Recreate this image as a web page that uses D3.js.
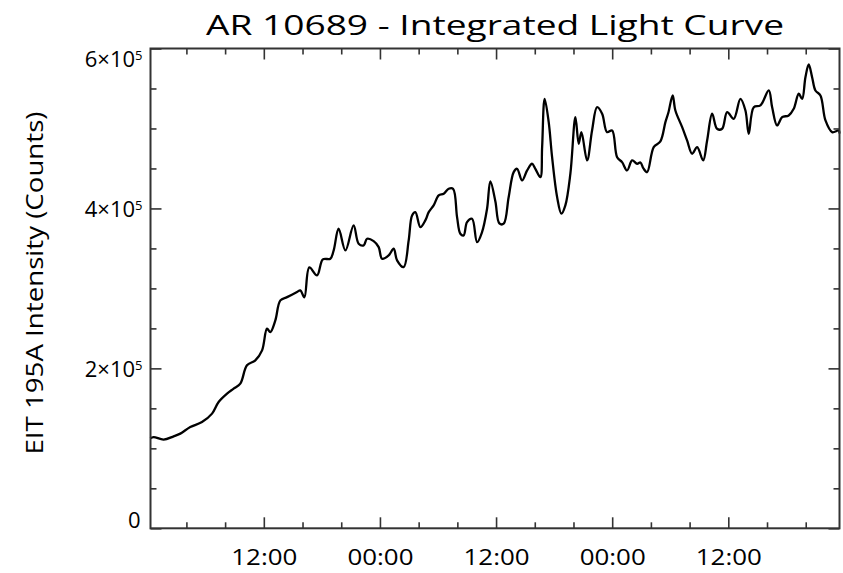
<!DOCTYPE html>
<html>
<head>
<meta charset="utf-8">
<script src="https://cdn.jsdelivr.net/npm/d3@7"></script>
<style>
  html, body { margin: 0; padding: 0; background: #fff; }
  svg { display: block; }
  text { font-family: "Open Sans", "DejaVu Sans", sans-serif; font-weight: 400; fill: #000; }
</style>
</head>
<body>
<svg id="chart" width="843" height="573"></svg>
<script>
// ---- data ----
const titleText = "AR 10689 - Integrated Light Curve";
const yTitleText = "EIT 195A Intensity (Counts)";
// hours since 00:00 of the first day
const hours = [
  0.27, 0.61, 1.64, 2.68, 3.37, 4.40, 5.61, 6.65, 7.33, 8.20, 8.88, 9.57,
  10.26, 11.12, 11.82, 12.33, 12.67, 13.19, 13.71, 14.40, 15.43, 15.77, 16.19, 16.70,
  17.50, 18.10, 18.87, 19.22, 19.73, 20.43, 21.28, 21.80, 22.32, 22.67, 23.35, 23.87,
  24.22, 24.90, 25.42, 25.77, 26.45, 26.97, 27.32, 27.66, 28.18, 28.69, 29.04, 29.55,
  30.07, 30.59, 31.10, 31.56, 31.97, 32.31, 32.65, 33.00, 33.52, 34.04, 34.55, 35.07,
  35.41, 35.93, 36.34, 36.79, 37.30, 37.82, 38.17, 38.69, 39.21, 39.72, 40.06, 40.58,
  40.76, 41.02, 41.44, 41.79, 42.31, 42.75, 43.16, 43.68, 44.20, 44.54, 44.82, 45.41,
  45.92, 46.44, 46.96, 47.47, 47.99, 48.51, 49.02, 49.54, 50.06, 50.58, 50.92, 51.23,
  51.61, 52.29, 52.98, 53.50, 53.81, 54.25, 54.53, 55.23, 55.74, 56.26, 56.78, 57.40,
  57.81, 58.33, 58.84, 59.36, 59.88, 60.56, 61.25, 61.77, 62.11, 62.63, 63.32, 64.18,
  64.53, 65.04, 65.56, 66.24, 66.76, 67.28, 67.63, 67.97, 68.31, 68.66, 69.00, 69.52,
  70.04, 70.73, 71.41, 71.49
];
const counts = [
  112500, 114100, 110900, 115000, 118400, 126600, 132900, 143400, 157900, 168400, 174600, 180900,
  203800, 210000, 222500, 249600, 245400, 260000, 285000, 289100, 295400, 297500, 288800, 326300,
  316300, 336300, 337100, 347500, 374600, 347500, 378800, 355900, 353800, 362100, 359100, 351600,
  337100, 341300, 349600, 335000, 326600, 360000, 391300, 395400, 376600, 385000, 395400, 403800,
  416300, 418400, 424600, 424600, 389100, 368400, 366300, 382900, 387100, 357900, 370400, 399600,
  433800, 408800, 381300, 380900, 414100, 445400, 449600, 435000, 447500, 455900, 449600, 439100,
  476600, 537100, 507900, 464100, 414100, 393400, 403800, 443400, 514100, 480900, 495400, 460000,
  497500, 526600, 518400, 495400, 497500, 464100, 457900, 447500, 460000, 455900, 457500, 450000,
  445400, 476600, 483800, 507900, 520000, 541300, 522500, 501600, 485000, 468400, 476600, 460000,
  485000, 518400, 499600, 499600, 520400, 512100, 537100, 522500, 493400, 526600, 528800, 547500,
  526600, 503800, 514100, 516300, 524600, 543400, 537100, 564100, 580000, 564100, 547500, 541300,
  510000, 495400, 497500, 493800
];
const xDomain = [0.29, 71.49];          // hours shown on the x axis
const xMinorTicks = [4, 8, 16, 20, 28, 32, 40, 44, 52, 56, 64, 68];
const xMajorTicks = [12, 24, 36, 48, 60];
const xTickLabels = ["12:00", "00:00", "12:00", "00:00", "12:00"];
const yDomain = [0, 600000];
const yMajorTicks = [0, 200000, 400000, 600000];
const yMinorTicks = [50000, 100000, 150000, 250000, 300000, 350000, 450000, 500000, 550000];
const yTickLabels = [["0", ""], ["2×10", "5"], ["4×10", "5"], ["6×10", "5"]];

// ---- layout ----
const L = 150.5, R = 839.5, T = 48.5, B = 528.3;
const svg = d3.select("#chart");
const x = d3.scaleLinear().domain(xDomain).range([L, R]);
const y = d3.scaleLinear().domain(yDomain).range([B, T]);
const axisColor = "#333";

// curve
const line = d3.line().curve(d3.curveCatmullRom.alpha(0.5))
  .x((d, i) => x(hours[i])).y(d => y(d));
svg.append("path")
  .datum(counts)
  .attr("d", line)
  .attr("fill", "none")
  .attr("stroke", "#000")
  .attr("stroke-width", 2.3)
  .attr("stroke-linejoin", "round");

function styleAxis(g) {
  g.select(".domain").remove();
  g.selectAll(".tick line").attr("stroke", axisColor).attr("stroke-width", 1.6);
}

// bottom axis (ticks inward)
svg.append("g").attr("transform", `translate(0,${B})`)
  .call(d3.axisBottom(x).tickValues(xMinorTicks).tickSize(-6).tickFormat(""))
  .call(styleAxis);
const bx = svg.append("g").attr("transform", `translate(0,${B})`)
  .call(d3.axisBottom(x).tickValues(xMajorTicks).tickSize(-11).tickPadding(21)
    .tickFormat((d, i) => xTickLabels[i]))
  .call(styleAxis);
bx.attr("font-family", null).attr("font-size", null);
bx.selectAll(".tick text")
  .attr("font-size", 22)
  .attr("fill", "#000")
  .attr("textLength", 66)
  .attr("lengthAdjust", "spacingAndGlyphs");

// top axis (ticks inward)
svg.append("g").attr("transform", `translate(0,${T})`)
  .call(d3.axisTop(x).tickValues(xMinorTicks).tickSize(-6).tickFormat(""))
  .call(styleAxis);
svg.append("g").attr("transform", `translate(0,${T})`)
  .call(d3.axisTop(x).tickValues(xMajorTicks).tickSize(-11).tickFormat(""))
  .call(styleAxis);

// left axis
svg.append("g").attr("transform", `translate(${L},0)`)
  .call(d3.axisLeft(y).tickValues(yMinorTicks).tickSize(-6).tickFormat(""))
  .call(styleAxis);
const ly = svg.append("g").attr("transform", `translate(${L},0)`)
  .call(d3.axisLeft(y).tickValues(yMajorTicks).tickSize(-11).tickFormat(""))
  .call(styleAxis);
ly.attr("font-family", null).attr("font-size", null);
ly.selectAll(".tick").each(function(d, i) {
  const lab = yTickLabels[i];
  const cy = Math.max(T + 10, Math.min(B - 8.5, y(d))) - y(d);
  const t = d3.select(this).append("text")
    .attr("x", lab[1] ? -8 : -10)
    .attr("y", cy)
    .attr("dy", "0.36em")
    .attr("text-anchor", "end")
    .attr("font-size", 22)
    .attr("fill", "#000");
  t.append("tspan").text(lab[0]);
  if (lab[1]) {
    t.append("tspan").attr("dy", "-0.55em").attr("font-size", 13).text(lab[1]);
  }
});

// right axis
svg.append("g").attr("transform", `translate(${R},0)`)
  .call(d3.axisRight(y).tickValues(yMinorTicks).tickSize(-6).tickFormat(""))
  .call(styleAxis);
svg.append("g").attr("transform", `translate(${R},0)`)
  .call(d3.axisRight(y).tickValues(yMajorTicks).tickSize(-11).tickFormat(""))
  .call(styleAxis);

// frame
svg.append("rect")
  .attr("x", L).attr("y", T)
  .attr("width", R - L).attr("height", B - T)
  .attr("fill", "none").attr("stroke", axisColor).attr("stroke-width", 2);

// title
svg.append("text")
  .attr("x", (L + R) / 2).attr("y", 35)
  .attr("text-anchor", "middle")
  .attr("font-size", 28)
  .attr("textLength", 578)
  .attr("lengthAdjust", "spacingAndGlyphs")
  .text(titleText);

// y title
svg.append("text")
  .attr("transform", `translate(43,283) rotate(-90)`)
  .attr("text-anchor", "middle")
  .attr("font-size", 23)
  .attr("textLength", 343)
  .attr("lengthAdjust", "spacingAndGlyphs")
  .text(yTitleText);
</script>
</body>
</html>
